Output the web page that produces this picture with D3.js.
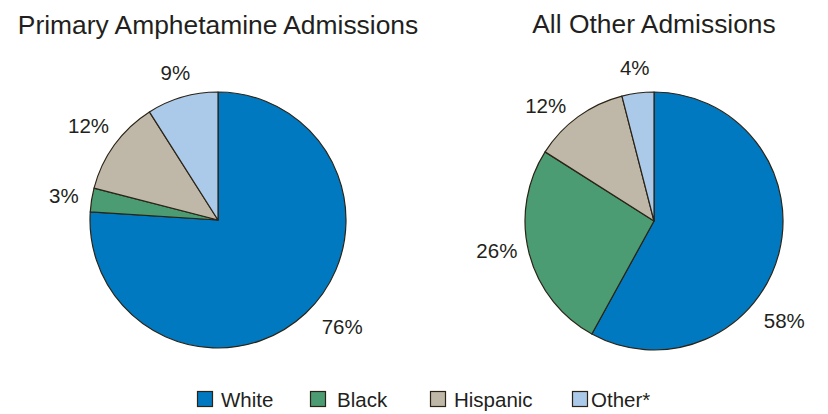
<!DOCTYPE html>
<html>
<head>
<meta charset="utf-8">
<script src="https://cdn.jsdelivr.net/npm/d3@7"></script>
<style>
  html, body { margin: 0; padding: 0; background: #ffffff; }
  svg { display: block; font-family: "Liberation Sans", Arial, sans-serif; }
</style>
</head>
<body>
<svg id="chart" width="828" height="414"></svg>
<script>
// ---- data ----
const categories = ["White", "Black", "Hispanic", "Other*"];
const chartTitles = ["Primary Amphetamine Admissions", "All Other Admissions"];
const amphetamineValues = [76, 3, 12, 9];
const otherValues = [58, 26, 12, 4];

// ---- styles / layout ----
const colors = ["#0079c1", "#4b9b73", "#bfb8a8", "#abc9e9"];
const strokeColor = "#2b2416";
const textColor = "#231f20";

const svg = d3.select("#chart");
const color = d3.scaleOrdinal().domain(categories).range(colors);

const pies = [
  { title: chartTitles[0], values: amphetamineValues, cx: 218, cy: 220, r: 128, titleY: 34,
    labelShift: [-6, 0, 0, 0], labelR: [164, 156, 160, 153] },
  { title: chartTitles[1], values: otherValues, cx: 654, cy: 221, r: 129, titleY: 33,
    labelShift: [23, 3.6, -7.3, 0], labelR: [164, 160, 158, 154] }
];

const pieGen = d3.pie().sort(null).value(d => d.value);

pies.forEach(p => {
  const data = categories.map((c, i) => ({ cat: c, value: p.values[i], idx: i }));
  const arcs = pieGen(data);
  const arc = d3.arc().innerRadius(0).outerRadius(p.r);
  const g = svg.append("g").attr("transform", `translate(${p.cx},${p.cy})`);

  g.selectAll("path")
    .data(arcs)
    .join("path")
    .attr("d", arc)
    .attr("fill", d => color(d.data.cat))
    .attr("stroke", strokeColor)
    .attr("stroke-width", 1.2)
    .attr("stroke-linejoin", "round");

  const labelAngle = d => (d.startAngle + d.endAngle) / 2 + p.labelShift[d.data.idx] * Math.PI / 180;

  g.selectAll("text.lbl")
    .data(arcs)
    .join("text")
    .attr("class", "lbl")
    .attr("text-anchor", "middle")
    .attr("dy", "0.35em")
    .attr("font-size", 20.5)
    .attr("fill", textColor)
    .attr("x", d => Math.sin(labelAngle(d)) * p.labelR[d.data.idx])
    .attr("y", d => -Math.cos(labelAngle(d)) * p.labelR[d.data.idx])
    .text(d => d.data.value + "%");

  svg.append("text")
    .attr("x", p.cx)
    .attr("y", p.titleY)
    .attr("text-anchor", "middle")
    .attr("font-size", 26.4)
    .attr("fill", textColor)
    .text(p.title);
});

// ---- legend ----
const legendX = [197, 310, 430, 572];
const legendTextGap = [24, 27, 24, 19];
const legend = svg.append("g");
categories.forEach((c, i) => {
  const lg = legend.append("g").attr("transform", `translate(${legendX[i]},391)`);
  lg.append("rect")
    .attr("x", 0.5).attr("y", 0.5)
    .attr("width", 15).attr("height", 15)
    .attr("fill", color(c))
    .attr("stroke", strokeColor)
    .attr("stroke-width", 1.2);
  lg.append("text")
    .attr("x", legendTextGap[i])
    .attr("y", 16)
    .attr("font-size", 20.5)
    .attr("fill", textColor)
    .text(c);
});
</script>
</body>
</html>
